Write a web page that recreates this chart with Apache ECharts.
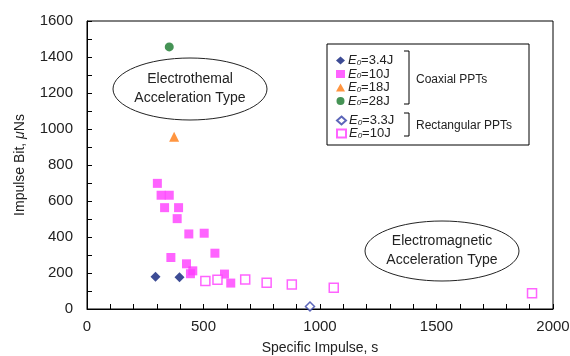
<!DOCTYPE html>
<html>
<head>
<meta charset="utf-8">
<script src="https://cdn.jsdelivr.net/npm/echarts@6/dist/echarts.min.js"></script>
<style>
  html, body { margin: 0; padding: 0; background: #fff; }
  #chart { width: 570px; height: 356px; }
</style>
</head>
<body>
<div id="chart"></div>
<script>
// coaxial PPTs
const coax34 = [[294, 179], [397, 177]];
const coax10 = [
  [302, 698], [318, 632], [353, 632], [333, 563], [393, 563], [387, 502],
  [437, 417], [503, 421], [549, 310], [360, 286], [427, 251], [454, 212],
  [444, 196], [590, 194], [617, 144]
];
const coax18 = [[374, 957]];
const coax28 = [[353, 1456]];
// rectangular PPTs
const rect33 = [[957, 14]];
const rect10 = [[508, 155], [560, 162], [679, 164], [771, 146], [879, 136], [1059, 118], [1910, 87]];

const legendText = {
  c34: '3.4J', c10: '10J', c18: '18J', c28: '28J', r33: '3.3J', r10: '10J'
};

const font = 'Arial, "Liberation Sans", sans-serif';
const chart = echarts.init(document.getElementById('chart'));

const legendRich = {
  e: { fontStyle: 'italic', fontSize: 13, fontFamily: font, color: '#222', lineHeight: 12, verticalAlign: 'middle' },
  s: { fontStyle: 'italic', fontSize: 8, fontFamily: font, color: '#222', lineHeight: 8, verticalAlign: 'bottom' },
  t: { fontSize: 13, fontFamily: font, color: '#222', lineHeight: 12, verticalAlign: 'middle' }
};
const legendFmt = name => '{e|E}{s|0}{t|=' + legendText[name] + '}';

chart.setOption({
  animation: false,
  grid: {
    left: 87, top: 21, width: 466, height: 288, show: true, borderColor: '#000', borderWidth: 1,
    outerBoundsMode: 'none', containLabel: false
  },
  legend: [
    {
      data: ['c34', 'c10', 'c18', 'c28'],
      orient: 'vertical', left: 336, top: 54, padding: 0,
      itemWidth: 9, itemHeight: 8, itemGap: 0.5,
      formatter: legendFmt,
      textStyle: { rich: legendRich, padding: [0, 0, 0, -2] }
    },
    {
      data: ['r33', 'r10'],
      orient: 'vertical', left: 336, top: 114, padding: 0,
      itemWidth: 9, itemHeight: 8, itemGap: 0,
      formatter: legendFmt,
      textStyle: { rich: legendRich, padding: [0, 0, 0, -2] }
    }
  ],
  xAxis: {
    type: 'value', min: 0, max: 2000, interval: 500,
    name: 'Specific Impulse, s', nameLocation: 'middle', nameGap: 32,
    nameTextStyle: { fontFamily: font, fontSize: 14, color: '#222' },
    axisLine: { lineStyle: { color: '#000' } },
    axisTick: { inside: true, length: 5, lineStyle: { color: '#000' } },
    minorTick: { show: true, splitNumber: 5, length: 5, lineStyle: { color: '#000' } },
    axisLabel: { fontFamily: font, fontSize: 15, color: '#222', margin: 10, formatter: v => String(v) },
    splitLine: { show: false }
  },
  yAxis: {
    type: 'value', min: 0, max: 1600, interval: 200,
    name: 'Impulse Bit, {i|μ}Ns', nameLocation: 'middle', nameGap: 60,
    nameTextStyle: {
      fontFamily: font, fontSize: 14, color: '#222',
      rich: { i: { fontStyle: 'italic', fontFamily: font, fontSize: 14, color: '#222' } }
    },
    axisLine: { show: true, lineStyle: { color: '#000' } },
    axisTick: { show: true, inside: true, length: 5, lineStyle: { color: '#000' } },
    minorTick: { show: true, splitNumber: 2, length: 5, lineStyle: { color: '#000' } },
    axisLabel: { fontFamily: font, fontSize: 15, color: '#222', margin: 14, formatter: v => String(v) },
    splitLine: { show: false }
  },
  series: [
    { name: 'c34', type: 'scatter', data: coax34, symbol: 'diamond', symbolSize: 10,
      itemStyle: { color: '#0d1f7a' } },
    { name: 'c10', type: 'scatter', data: coax10, symbol: 'rect', symbolSize: 9,
      itemStyle: { color: '#ff3cff' } },
    { name: 'c18', type: 'scatter', data: coax18, symbol: 'triangle', symbolSize: 10,
      itemStyle: { color: '#ff7a10' } },
    { name: 'c28', type: 'scatter', data: coax28, symbol: 'circle', symbolSize: 9,
      itemStyle: { color: '#16782a' } },
    { name: 'r33', type: 'scatter', data: rect33, symbol: 'diamond', symbolSize: 9,
      itemStyle: { color: '#fff', borderColor: '#3340a8', borderWidth: 1.5 } },
    { name: 'r10', type: 'scatter', data: rect10, symbol: 'rect', symbolSize: 9,
      itemStyle: { color: '#fff', borderColor: '#ff3cff', borderWidth: 1.5 } }
  ],
  graphic: [
    // legend box and brackets
    { type: 'rect', shape: { x: 327, y: 44, width: 202, height: 101 },
      style: { fill: 'none', stroke: '#000', lineWidth: 1 } },
    { type: 'polyline', shape: { points: [[404, 51], [409, 51], [409, 104], [404, 104]] },
      style: { fill: 'none', stroke: '#000', lineWidth: 1 } },
    { type: 'polyline', shape: { points: [[404, 113], [409, 113], [409, 136], [404, 136]] },
      style: { fill: 'none', stroke: '#000', lineWidth: 1 } },
    { type: 'text', style: { x: 416, y: 80, text: 'Coaxial PPTs', font: '12px ' + font,
      fill: '#222', verticalAlign: 'middle' } },
    { type: 'text', style: { x: 416, y: 126, text: 'Rectangular PPTs', font: '12px ' + font,
      fill: '#222', verticalAlign: 'middle' } },
    // annotation ellipses
    { type: 'ellipse', shape: { cx: 190, cy: 89, rx: 77, ry: 31 },
      style: { fill: '#fff', stroke: '#222', lineWidth: 1 } },
    { type: 'text', style: { x: 190, y: 89, text: 'Electrothemal\nAcceleration Type',
      font: '14px ' + font, fill: '#222', align: 'center', verticalAlign: 'middle', lineHeight: 19 } },
    { type: 'ellipse', shape: { cx: 442, cy: 251, rx: 77, ry: 30 },
      style: { fill: '#fff', stroke: '#222', lineWidth: 1 } },
    { type: 'text', style: { x: 442, y: 251, text: 'Electromagnetic\nAcceleration Type',
      font: '14px ' + font, fill: '#222', align: 'center', verticalAlign: 'middle', lineHeight: 19 } }
  ]
});
</script>
</body>
</html>
